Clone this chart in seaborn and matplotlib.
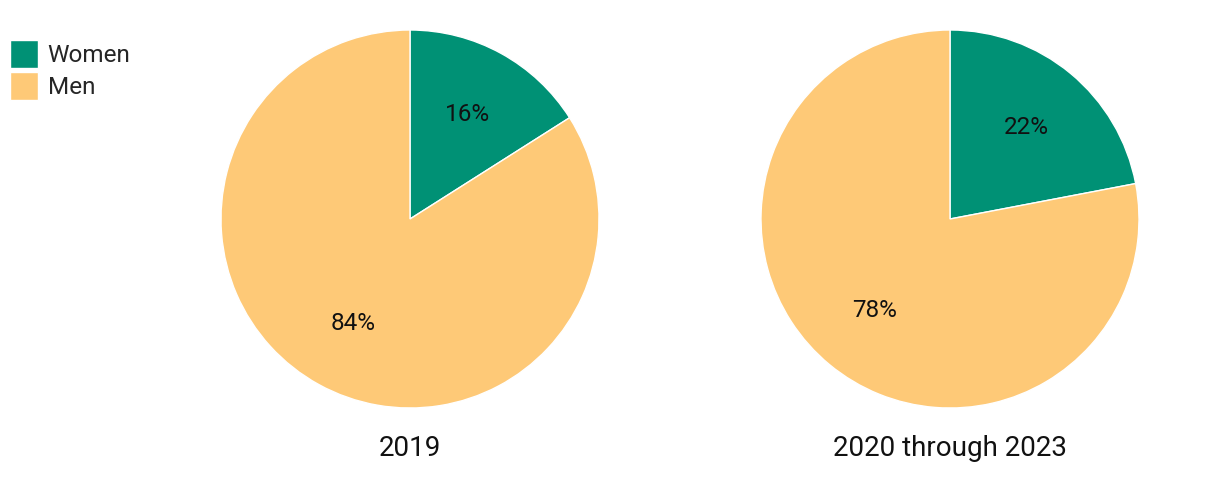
import matplotlib
matplotlib.use("Agg")
import matplotlib.pyplot as plt
import seaborn as sns

categories = ["Women", "Men"]
periods = ["2019", "2020 through 2023"]
values_2019 = [16, 84]
values_2020_2023 = [22, 78]
colors = ["#009175", "#FEC977"]

sns.set_theme(style="white")
plt.rcParams["font.family"] = ["Roboto", "DejaVu Sans"]

fig = plt.figure(figsize=(12.2, 4.92), dpi=100)
W, H = 1220, 492
r = 189
centers = [(410, 219), (950, 219)]
series = [values_2019, values_2020_2023]

wedges_ref = None
for (cx, cy), vals, title in zip(centers, series, periods):
    ax = fig.add_axes([(cx - r) / W, (H - cy - r) / H, 2 * r / W, 2 * r / H])
    wedges, _, autotexts = ax.pie(
        vals, colors=colors, startangle=90, counterclock=False,
        autopct=lambda p: f"{p:.0f}%", pctdistance=0.63,
        wedgeprops=dict(edgecolor="white", linewidth=1),
        textprops=dict(fontsize=17.5, color="#111111"),
    )
    ax.set_xlim(-1, 1)
    ax.set_ylim(-1, 1)
    ax.set_aspect("equal")
    ax.axis("off")
    ax.text(0.5, -0.108, title, transform=ax.transAxes, ha="center", va="center",
            fontsize=20, color="#111111")
    if wedges_ref is None:
        wedges_ref = wedges

fig.legend(wedges_ref, categories, loc="upper left",
           bbox_to_anchor=(10 / W, 1 - 40 / H), frameon=False,
           fontsize=17.5, handlelength=1.15, handleheight=1.4,
           handletextpad=0.4, labelspacing=0.16, borderpad=0, borderaxespad=0)

fig.savefig("out.png", dpi=100, facecolor="white")
